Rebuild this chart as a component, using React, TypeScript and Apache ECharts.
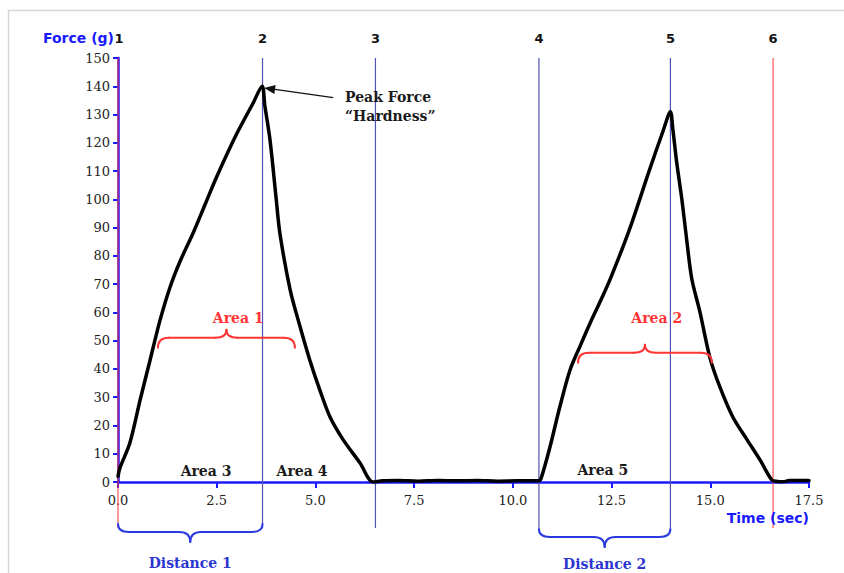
import React, { useEffect, useRef } from "react";
import * as echarts from "echarts";

// ---- data ----
const timeSec = [
  0, 0.05, 0.3, 0.56, 0.81, 1.06, 1.32, 1.57, 1.9, 2.2, 2.5, 3.0, 3.42, 3.65, 3.72, 3.85, 4.0, 4.1, 4.36,
  4.61, 4.86, 5.11, 5.37, 5.7, 6.13, 6.46, 6.7, 7.1, 7.6, 8.1, 8.6, 9.1, 9.6, 10.1, 10.5, 10.66, 10.72,
  10.94, 11.19, 11.45, 11.7, 11.95, 12.2, 12.46, 12.97, 13.45, 13.8, 13.99, 14.05, 14.15, 14.28, 14.4,
  14.53, 14.74, 14.99, 15.24, 15.57, 15.93, 16.26, 16.56, 16.7, 16.85, 17.0, 17.5,
];
const forceG = [
  2, 5, 13.8, 29, 43, 57, 69, 78, 88, 98, 108, 123, 134, 140, 133, 121, 101, 88, 68,
  55, 43, 32.6, 23, 15, 6.7, 0, 0.4, 0.5, 0.3, 0.5, 0.4, 0.5, 0.3, 0.4, 0.4, 0.4, 1.5,
  12.4, 26.6, 39.7, 48, 56, 63.5, 71.6, 90, 110, 124, 131, 125, 113, 100, 86,
  72, 60, 44, 33.7, 23, 15, 7.8, 0.7, 0.2, 0.1, 0.5, 0.5,
];

const markerTimes = [0, 3.66, 6.52, 10.66, 13.99, 16.59];
const markerLabels = ["1", "2", "3", "4", "5", "6"];
const markerIsRed = [true, false, false, false, false, true];

const areaBraceStart = [1.01, 11.65];
const areaBraceEnd = [4.48, 15.04];
const areaBraceForce = [51, 45.7];
const areaBraceLabels = ["Area 1", "Area 2"];
const areaBraceLabelForce = [58, 58];

const baseAreaLabels = ["Area 3", "Area 4", "Area 5"];
const baseAreaTimes = [2.23, 4.66, 12.28];
const baseAreaForce = [3.9, 3.9, 4.2];

const distanceLabels = ["Distance 1", "Distance 2"];
const distanceFrom = [0, 3]; // marker indices
const distanceTo = [1, 4];
const distanceDepth = [50, 55]; // px below axis for the brace bar

const peakNoteLines = ["Peak Force", "\u201cHardness\u201d"];
const peakPoint = [3.7, 139.4];
const peakNoteAnchor = [5.45, 136];
const peakNoteText = [5.75, 132.8];

const xMin = 0, xMax = 17.5, xStep = 2.5;
const yMin = 0, yMax = 150, yStep = 10;

const BLUE = "#1a1aff";
const LINE_BLUE = "#5252b8";
const RED = "#ff3535";
const SERIF = '"DejaVu Serif", serif';
const SANS = '"DejaVu Sans", sans-serif';

function textEl(x: number, y: number, text: string, font: string, fill: string, align = "center", vAlign = "middle", extra: any = {}) {
  return {
    type: "text",
    x,
    y,
    z: 10,
    silent: true,
    style: {
      text,
      font,
      fill,
      align,
      textAlign: align,
      verticalAlign: vAlign,
      textVerticalAlign: vAlign,
      ...extra,
    },
  };
}

function braceEls(x1: number, x2: number, yh: number, ye: number, yt: number, r: number, color: string) {
  const xm = (x1 + x2) / 2;
  const st = { stroke: color, lineWidth: 2, fill: "none", lineCap: "round" };
  const mk = (shape: any, type: string) => ({ type, shape, style: st, z: 9, silent: true });
  return [
    mk({ x1: x1, y1: ye, x2: x1 + r, y2: yh, cpx1: x1, cpy1: yh }, "bezierCurve"),
    mk({ x1: x1 + r, y1: yh, x2: xm - r, y2: yh }, "line"),
    mk({ x1: xm - r, y1: yh, x2: xm, y2: yt, cpx1: xm, cpy1: yh }, "bezierCurve"),
    mk({ x1: xm, y1: yt, x2: xm + r, y2: yh, cpx1: xm, cpy1: yh }, "bezierCurve"),
    mk({ x1: xm + r, y1: yh, x2: x2 - r, y2: yh }, "line"),
    mk({ x1: x2 - r, y1: yh, x2: x2, y2: ye, cpx1: x2, cpy1: yh }, "bezierCurve"),
  ];
}

export default function App() {
  const ref = useRef<HTMLDivElement>(null);

  useEffect(() => {
    if (!ref.current) return;
    const chart = echarts.init(ref.current, null, { renderer: "svg" });
    const axisText = { fontFamily: SERIF, fontSize: 13, color: "#222" };
    chart.setOption({
      animation: false,
      grid: { left: 118, right: 35, top: 58, bottom: 91, containLabel: false },
      xAxis: {
        type: "value",
        min: xMin,
        max: xMax,
        interval: xStep,
        axisLine: { show: true, lineStyle: { color: BLUE, width: 2.5 } },
        axisTick: { show: true, length: 6, lineStyle: { color: BLUE, width: 2 } },
        axisLabel: { ...axisText, margin: 12, formatter: (v: number) => v.toFixed(1) },
        splitLine: { show: false },
      },
      yAxis: {
        type: "value",
        min: yMin,
        max: yMax,
        interval: yStep,
        axisLine: { show: true, lineStyle: { color: BLUE, width: 2.5 } },
        axisTick: { show: true, length: 5, lineStyle: { color: BLUE, width: 2 } },
        axisLabel: { ...axisText, margin: 8 },
        splitLine: { show: false },
      },
      series: [
        {
          type: "line",
          data: timeSec.map((t, i) => [t, forceG[i]]),
          showSymbol: false,
          smooth: 0.3,
          lineStyle: { color: "#000", width: 3.5, join: "round", cap: "round" },
          z: 3,
        },
      ],
    });

    const px = (x: number, y: number) => chart.convertToPixel({ gridIndex: 0 }, [x, y]) as number[];
    const y0 = px(0, 0)[1];
    const yTop = px(0, yMax)[1];
    const g: any[] = [];

    // frame
    g.push({
      type: "rect",
      shape: { x: 8.5, y: 10.5, width: 1000, height: 1000 },
      style: { fill: "none", stroke: "#d6d6d6", lineWidth: 1.5 },
      z: 0,
      silent: true,
    });

    // marker lines and labels
    markerTimes.forEach((t, i) => {
      const x = px(t, 0)[0];
      g.push({
        type: "line",
        shape: { x1: x, y1: yTop, x2: x, y2: y0 + 46 },
        style: { stroke: markerIsRed[i] ? RED : LINE_BLUE, lineWidth: markerIsRed[i] ? 1 : 1.2 },
        z: 1,
        silent: true,
      });
      g.push(textEl(x + (i === 0 ? 1 : 0), yTop - 20, markerLabels[i], `bold 13px ${SANS}`, "#111"));
    });

    // axis names
    g.push(textEl(px(0, 0)[0] - 4, yTop - 20, "Force (g)", `bold 14px ${SANS}`, BLUE, "right"));
    g.push(textEl(px(xMax, 0)[0], y0 + 36, "Time (sec)", `bold 14px ${SANS}`, BLUE, "right"));

    // area braces (above curve)
    areaBraceStart.forEach((s, i) => {
      const [x1, yh] = px(s, areaBraceForce[i]);
      const x2 = px(areaBraceEnd[i], 0)[0];
      g.push(...braceEls(x1, x2, yh, yh + 10, yh - 8, 11, RED));
      const [lx, ly] = px((s + areaBraceEnd[i]) / 2 + 0.3, areaBraceLabelForce[i]);
      g.push(textEl(lx, ly, areaBraceLabels[i], `bold 14px ${SERIF}`, RED));
    });

    // base area labels
    baseAreaLabels.forEach((lab, i) => {
      const [x, y] = px(baseAreaTimes[i], baseAreaForce[i]);
      g.push(textEl(x, y, lab, `bold 14px ${SERIF}`, "#1a1a1a"));
    });

    // distance braces (below axis)
    distanceLabels.forEach((lab, i) => {
      const x1 = px(markerTimes[distanceFrom[i]], 0)[0];
      const x2 = px(markerTimes[distanceTo[i]], 0)[0];
      const yh = y0 + distanceDepth[i];
      g.push(...braceEls(x1, x2, yh, yh - 8, yh + 10, 11, "#2a3ae0"));
      g.push(textEl((x1 + x2) / 2, Math.min(yh + 31, 564), lab, `bold 14px ${SERIF}`, "#2b35d0"));
    });

    // peak note with arrow
    const [sx, sy] = px(peakNoteAnchor[0], peakNoteAnchor[1]);
    const [ex, ey] = px(peakPoint[0], peakPoint[1]);
    const dx = ex - sx, dy = ey - sy;
    const len = Math.hypot(dx, dy);
    const ux = dx / len, uy = dy / len;
    const nx = -uy, ny = ux;
    const bx = ex - ux * 11, by = ey - uy * 11;
    g.push({
      type: "line",
      shape: { x1: sx, y1: sy, x2: bx, y2: by },
      style: { stroke: "#111", lineWidth: 1.3 },
      z: 9,
      silent: true,
    });
    g.push({
      type: "polygon",
      shape: { points: [[ex, ey], [bx + nx * 4.5, by + ny * 4.5], [bx - nx * 4.5, by - ny * 4.5]] },
      style: { fill: "#111" },
      z: 9,
      silent: true,
    });
    const [tx, ty] = px(peakNoteText[0], peakNoteText[1]);
    g.push(textEl(tx, ty, peakNoteLines.join("\n"), `bold 14px ${SERIF}`, "#1a1a1a", "left", "middle", { lineHeight: 19 }));

    chart.setOption({ graphic: { elements: g } });

    return () => chart.dispose();
  }, []);

  return (
    <div
      ref={ref}
      style={{ position: "fixed", left: 0, top: 0, width: 844, height: 573, background: "#fff" }}
    />
  );
}
